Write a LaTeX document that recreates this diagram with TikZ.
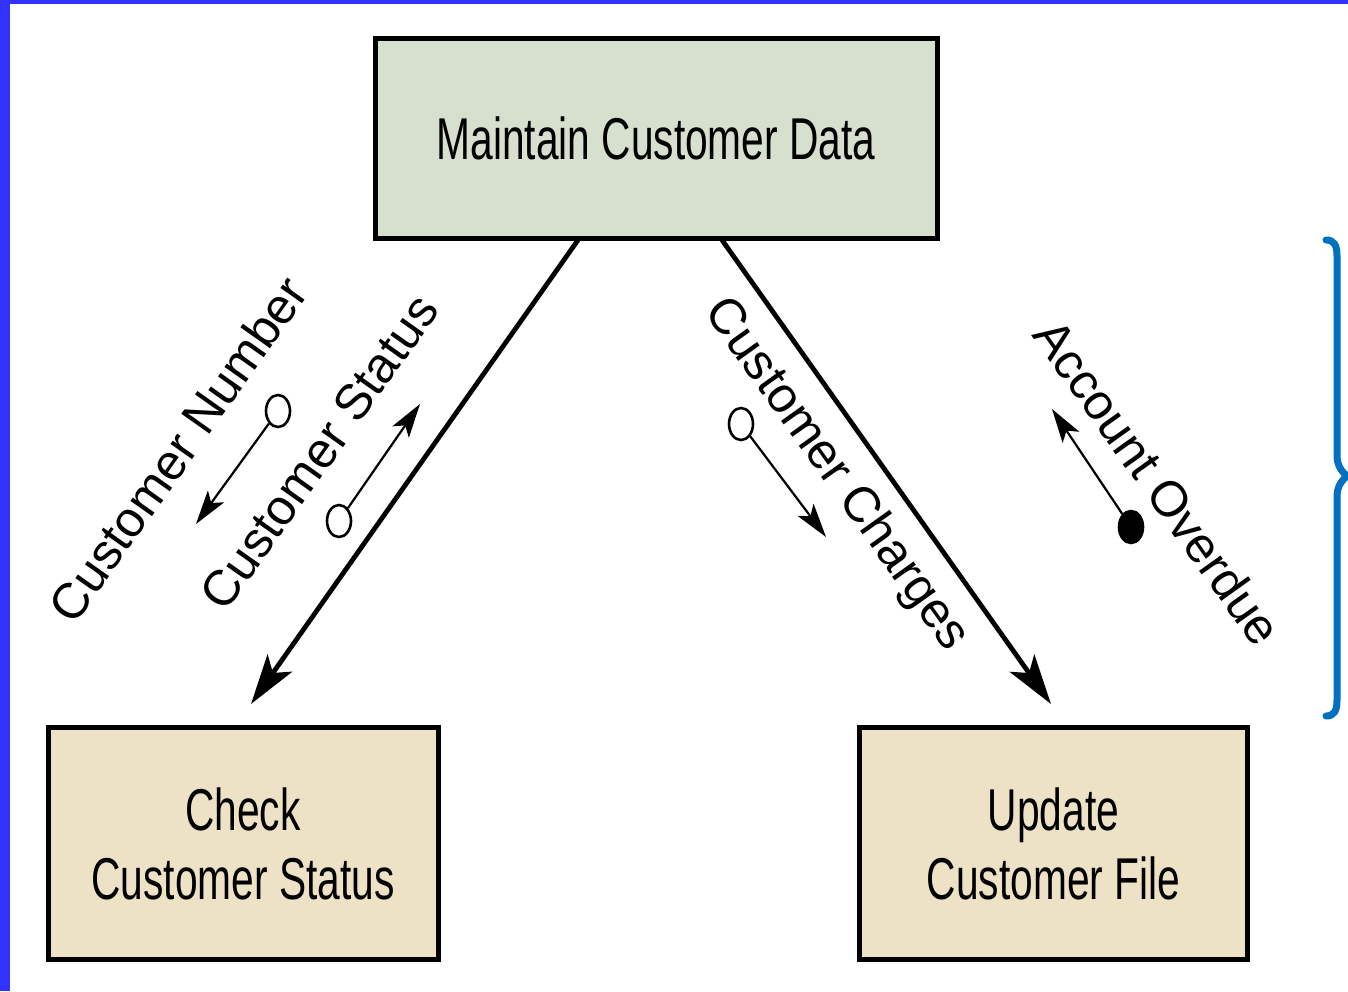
\documentclass[tikz,border=0pt]{standalone}
\usepackage{fontspec}
\setmainfont{Liberation Sans}
\newfontfamily\narrowfont{Liberation Sans}[FakeStretch=0.69]
\usetikzlibrary{arrows.meta,shapes.geometric}
\definecolor{bordblue}{RGB}{51,51,255}
\definecolor{bracecol}{RGB}{0,112,192}
\definecolor{topfill}{RGB}{215,223,206}
\definecolor{botfill}{RGB}{237,226,198}
\begin{document}
\begin{tikzpicture}[x=0.5pt,y=-0.5pt,
 proc/.style={draw=black,line width=2.5pt,inner sep=0pt,align=center,font=\narrowfont\fontsize{29.5}{34.5}\selectfont},
 flow/.style={line width=2.4pt,-{Stealth[length=25pt,width=15pt,inset=6pt]}},
 couple/.style={line width=1.1pt,-{Stealth[length=17pt,width=10pt,inset=4pt]}},
 opendot/.style={draw,ellipse,line width=1.3pt,minimum width=12pt,minimum height=16pt,inner sep=0pt,fill=white},
 fulldot/.style={opendot,fill=black},
 lab/.style={font=\fontsize{25}{30}\selectfont,inner sep=0pt}]
\useasboundingbox (0,0) rectangle (1348,991);
\fill[white] (0,0) rectangle (1348,991);
\fill[bordblue] (0,0) rectangle (10,991);
\fill[bordblue] (0,0) rectangle (1348,4);
% process boxes
\node[proc,fill=topfill,minimum width=281pt,minimum height=100pt] (top) at (656,138.5) {Maintain Customer Data};
\node[proc,fill=botfill,minimum width=195pt,minimum height=116pt] (check) at (243,843.5) {Check\\Customer Status};
\node[proc,fill=botfill,minimum width=194pt,minimum height=116pt] (update) at (1053.5,843.5) {Update\\Customer File};
% main connectors
\coordinate (ls) at (578,240);
\coordinate (le) at (251,704);
\coordinate (rs) at (722,240);
\coordinate (re) at (1051,704);
\draw[flow] (ls) -- (le);
\draw[flow] (rs) -- (re);
% data couples
\node[opendot] (cn) at (278,411) {};
\coordinate (cnt) at (196,524);
\draw[couple] (cn) -- (cnt);
\node[opendot] (cs) at (339,521) {};
\coordinate (cst) at (420,404);
\draw[couple] (cs) -- (cst);
\node[opendot] (cc) at (741,424) {};
\coordinate (cct) at (826,537);
\draw[couple] (cc) -- (cct);
\node[fulldot] (ao) at (1131,527) {};
\coordinate (aot) at (1052,409);
\draw[couple] (ao) -- (aot);
% labels
\node[lab,rotate=54.7] (lcn) at (178,449) {Customer Number};
\node[lab,rotate=54.7] (lcs) at (319,452) {Customer Status};
\node[lab,rotate=-54.5] (lcc) at (836,475) {Customer Charges};
\node[lab,rotate=-54.5] (lao) at (1158,482) {Account Overdue};
% brace
\draw[bracecol,line width=3.5pt,line cap=round,line join=round]
 (1326,240) .. controls (1334,240) and (1337,245) .. (1337,256)
 -- (1337,455) .. controls (1337,464) and (1340,470) .. (1347,476)
 .. controls (1340,482) and (1337,488) .. (1337,497)
 -- (1337,700) .. controls (1337,711) and (1334,716) .. (1326,716);
\end{tikzpicture}
\end{document}
